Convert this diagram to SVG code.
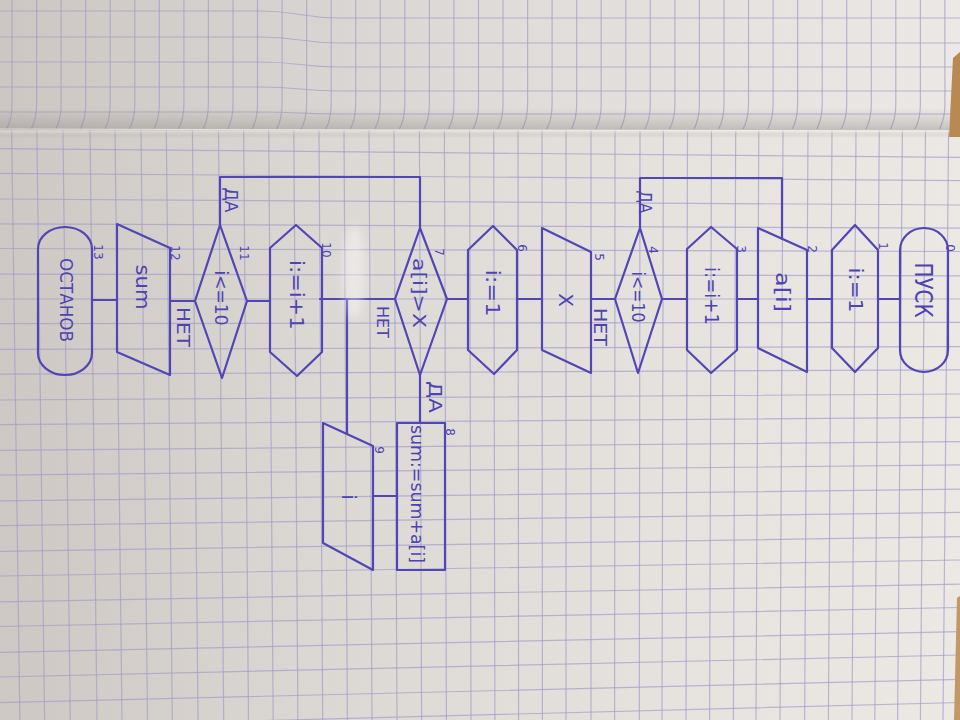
<svg xmlns="http://www.w3.org/2000/svg" width="960" height="720" viewBox="0 0 960 720">
  <defs>
    <linearGradient id="paper" x1="0" y1="0" x2="1" y2="0">
      <stop offset="0" stop-color="#cdc8c3"/>
      <stop offset="0.35" stop-color="#dcd8d4"/>
      <stop offset="0.7" stop-color="#e6e3df"/>
      <stop offset="1" stop-color="#ece9e5"/>
    </linearGradient>
    <linearGradient id="topPaper" x1="0" y1="0" x2="1" y2="0">
      <stop offset="0" stop-color="#ccc7c3"/>
      <stop offset="0.5" stop-color="#dedbd8"/>
      <stop offset="1" stop-color="#ebe8e5"/>
    </linearGradient>
    <linearGradient id="fold" x1="0" y1="0" x2="0" y2="1">
      <stop offset="0" stop-color="#7d7873" stop-opacity="0"/>
      <stop offset="0.55" stop-color="#7d7873" stop-opacity="0.25"/>
      <stop offset="0.72" stop-color="#7d7873" stop-opacity="0.35"/>
      <stop offset="0.76" stop-color="#f2f0ee" stop-opacity="0.45"/>
      <stop offset="1" stop-color="#7d7873" stop-opacity="0"/>
    </linearGradient>
    <clipPath id="lowerSheet"><rect x="0" y="129" width="960" height="591"/></clipPath>
    <clipPath id="upperSheet"><rect x="0" y="0" width="960" height="129"/></clipPath>
    <filter id="soft" x="-50%" y="-50%" width="200%" height="200%"><feGaussianBlur stdDeviation="5"/></filter>
    <style>
      .grid { fill: none; stroke: #a39dc8; stroke-width: 1.2; stroke-opacity: 0.7; }
      .ink { fill: none; stroke: #5046b6; stroke-width: 2.2; stroke-linejoin: round; stroke-linecap: round; }
      .lbl { fill: #4d43b3; font-family: "DejaVu Sans", "Liberation Sans", sans-serif; text-anchor: middle; }
      .num { fill: #4d43b3; font-family: "DejaVu Sans", "Liberation Sans", sans-serif; text-anchor: middle; font-size: 12px; }
    </style>
  </defs>

  <!-- paper -->
  <rect x="0" y="0" width="960" height="720" fill="url(#paper)"/>
  <rect x="0" y="0" width="960" height="129" fill="url(#topPaper)"/>

  <!-- grid of the upper sheet, bending slightly towards the fold -->
  <g class="grid" clip-path="url(#upperSheet)">
    <path d="M12 0V104Q12 120 6 130M36.6 0V104Q36.6 120 30.6 130M61.1 0V104Q61.1 120 55.1 130M85.7 0V104Q85.7 120 79.7 130M110.2 0V104Q110.2 120 104.2 130M134.8 0V104Q134.8 120 128.8 130M159.3 0V104Q159.3 120 153.3 130M183.9 0V104Q183.9 120 177.9 130M208.4 0V104Q208.4 120 202.4 130M233 0V104Q233 120 227 130M257.5 0V104Q257.5 120 251.5 130M282.1 0V104Q282.1 120 276.1 130M306.6 0V104Q306.6 120 300.6 130M331.2 0V104Q331.2 120 325.2 130M355.7 0V104Q355.7 120 349.7 130M380.3 0V104Q380.3 120 374.3 130M404.8 0V104Q404.8 120 398.8 130M429.4 0V104Q429.4 120 423.4 130M453.9 0V104Q453.9 120 447.9 130M478.5 0V104Q478.5 120 472.5 130M503 0V104Q503 120 497 130M527.6 0V104Q527.6 120 521.6 130M552.1 0V104Q552.1 120 546.1 130M576.7 0V104Q576.7 120 570.7 130M601.2 0V104Q601.2 120 595.2 130M625.8 0V104Q625.8 120 619.8 130M650.3 0V104Q650.3 120 644.3 130M674.9 0V104Q674.9 120 668.9 130M699.4 0V104Q699.4 120 693.4 130M724 0V104Q724 120 718 130M748.5 0V104Q748.5 120 742.5 130M773.1 0V104Q773.1 120 767.1 130M797.6 0V104Q797.6 120 791.6 130M822.2 0V104Q822.2 120 816.2 130M846.7 0V104Q846.7 120 840.7 130M871.3 0V104Q871.3 120 865.3 130M895.8 0V104Q895.8 120 889.8 130M920.4 0V104Q920.4 120 914.4 130M944.9 0V104Q944.9 120 938.9 130"/>
    <path d="M0 11L260 11C300 11 300 18 340 18L960 18M0 37L260 37C300 37 300 43 340 43L960 43M0 62L260 62C300 62 300 67 340 67L960 67M0 87L260 87C300 87 300 91 340 91L960 91M0 112L260 112C300 112 300 114 340 114L960 114"/>
  </g>

  <!-- grid of the lower sheet -->
  <g class="grid" clip-path="url(#lowerSheet)">
    <path d="M11.6 130L19.9 720M36.8 130L44.6 720M62.9 130L70.3 720M90 130L97 720M115 130L122 720M141 130L147.5 720M166.3 130L172.3 720M192.4 130L198 720M218.5 130L223.7 720M243.6 130L248.5 720M268.7 130L273.2 720M293.8 130L297.9 720M319 130L322.7 720M344 130L347.4 720M369 130L372 720M394 130L397 720M419.4 130L421.6 720M444.4 130L446.4 720M469.6 130L471 720M493.7 130L494.9 720M518 130L518.6 720M542 130L542.4 720M566 130L566 720M591 130L591 720M615 130L614.6 720M640 130L639.3 720M663.4 130L662 720M687.5 130L686 720M711.5 130L709.6 720M735.7 130L733.4 720M758.8 130L756 720M783 130L780 720M808 130L804.6 720M832 130L828.4 720M856 130L852 720M879.3 130L874.8 720M902.4 130L897.6 720M925.5 130L920.4 720M948.6 130L943 720"/>
    <path d="M0 148.6L960 157.4M0 173.3L960 180.7M0 199L960 205M0 223.8L960 228.2M0 248.5L960 251.5M0 274.2L960 275.8M0 299L960 299M0 323.7L960 322.3M0 349.4L960 346.6M0 374.2L960 369.8M0 400L960 394M0 424.6L960 417.4M0 450.4L960 441.6M0 475.1L960 464.9M0 500.9L960 489.2M0 525.6L960 512.4M0 551.3L960 536.7M0 576L960 560M0 601.8L960 584.2M0 626.5L960 607.5M0 652.3L960 631.7M0 677L960 655M0 702.7L960 679.3M0 727.5L960 702.5M0 753L960 727"/>
  </g>

  <!-- fold between the two sheets -->
  <rect x="0" y="108" width="955" height="30" fill="url(#fold)"/>
  <path d="M0 129L955 131" stroke="#f4f2f0" stroke-width="1.2" stroke-opacity="0.7" fill="none"/>

  <!-- table showing at the right edge -->
  <path d="M953 58L960 52L960 137L949 137Z" fill="#b98853"/>
  <path d="M957 598L960 596L960 720L954 720Z" fill="#c39766"/>

  <!-- connectors -->
  <g id="connectors" class="ink">
    <path d="M878 299H900"/>
    <path d="M807 299H832"/>
    <path d="M737 299H758"/>
    <path d="M662 299H687"/>
    <path d="M591 299H615"/>
    <path d="M517 299H542"/>
    <path d="M447 299H468"/>
    <path d="M320 299H395"/>
    <path d="M420 375V423"/>
    <path d="M373 496H397"/>
    <path d="M347 299V434"/>
    <path d="M247 301H270"/>
    <path d="M170 301H195"/>
    <path d="M92 300H117"/>
    <path d="M640 228V178H782V239"/>
    <path d="M220 225V177H420V228"/>
  </g>

  <!-- branch labels -->
  <g id="branch-labels">
    <text class="lbl" font-size="17" textLength="38" lengthAdjust="spacingAndGlyphs" transform="translate(600 327) rotate(90)" y="6">НЕТ</text>
    <text class="lbl" font-size="17" textLength="23" lengthAdjust="spacingAndGlyphs" transform="translate(645 202) rotate(90)" y="6">ДА</text>
    <text class="lbl" font-size="16" textLength="32" lengthAdjust="spacingAndGlyphs" transform="translate(383 322) rotate(90)" y="6">НЕТ</text>
    <text class="lbl" font-size="18" textLength="32" lengthAdjust="spacingAndGlyphs" transform="translate(435 397) rotate(90)" y="6">ДА</text>
    <text class="lbl" font-size="17" textLength="25" lengthAdjust="spacingAndGlyphs" transform="translate(231 200) rotate(90)" y="6">ДА</text>
    <text class="lbl" font-size="17" textLength="40" lengthAdjust="spacingAndGlyphs" transform="translate(183 327) rotate(90)" y="6">НЕТ</text>
  </g>

  <!-- 0: start -->
  <g id="n0">
    <rect class="ink" x="900" y="228" width="48" height="144" rx="24" ry="22"/>
    <text class="lbl" font-size="24" textLength="55" lengthAdjust="spacingAndGlyphs" transform="translate(923 290) rotate(90)" y="8">ПУСК</text>
    <text class="num" font-size="11" transform="translate(950 248) rotate(90)" y="4">0</text>
  </g>

  <!-- 1: i:=1 -->
  <g id="n1">
    <polygon class="ink" points="855,225 878,250 878,348 855,372 832,348 832,250"/>
    <text class="lbl" font-size="19" textLength="45" lengthAdjust="spacingAndGlyphs" transform="translate(855 290) rotate(90)" y="6">i:=1</text>
    <text class="num" transform="translate(883 246) rotate(90)" y="4">1</text>
  </g>

  <!-- 2: input a[i] -->
  <g id="n2">
    <polygon class="ink" points="758,228 807,250 807,372 758,348"/>
    <text class="lbl" font-size="19" textLength="40" lengthAdjust="spacingAndGlyphs" transform="translate(782 292) rotate(90)" y="6">a[i]</text>
    <text class="num" transform="translate(812 249) rotate(90)" y="4">2</text>
  </g>

  <!-- 3: i:=i+1 -->
  <g id="n3">
    <polygon class="ink" points="711,227 737,249 737,350 711,373 687,350 687,249"/>
    <text class="lbl" font-size="19" textLength="58" lengthAdjust="spacingAndGlyphs" transform="translate(711 296) rotate(90)" y="6">i:=i+1</text>
    <text class="num" transform="translate(741 249) rotate(90)" y="4">3</text>
  </g>

  <!-- 4: i<=10 -->
  <g id="n4">
    <polygon class="ink" points="640,228 662,299 638,373 615,299"/>
    <text class="lbl" font-size="18" textLength="51" lengthAdjust="spacingAndGlyphs" transform="translate(638 297) rotate(90)" y="6">i&lt;=10</text>
    <text class="num" transform="translate(653 250) rotate(90)" y="4">4</text>
  </g>

  <!-- 5: input X -->
  <g id="n5">
    <polygon class="ink" points="542,228 591,252 591,373 542,350"/>
    <text class="lbl" font-size="20" transform="translate(566 300) rotate(90)" y="7">X</text>
    <text class="num" transform="translate(599 257) rotate(90)" y="4">5</text>
  </g>

  <!-- 6: i:=1 -->
  <g id="n6">
    <polygon class="ink" points="493,226 517,250 517,350 494,374 468,350 468,250"/>
    <text class="lbl" font-size="19" textLength="47" lengthAdjust="spacingAndGlyphs" transform="translate(492 293) rotate(90)" y="6">i:=1</text>
    <text class="num" transform="translate(522 248) rotate(90)" y="4">6</text>
  </g>

  <!-- 7: a[i]>X -->
  <g id="n7">
    <polygon class="ink" points="420,228 447,299 420,375 395,299"/>
    <text class="lbl" font-size="18" textLength="70" lengthAdjust="spacingAndGlyphs" transform="translate(419 293) rotate(90)" y="6">a[i]&gt;X</text>
    <text class="num" transform="translate(439 252) rotate(90)" y="4">7</text>
  </g>

  <!-- 8: sum:=sum+a[i] -->
  <g id="n8">
    <rect class="ink" x="397" y="423" width="48" height="147"/>
    <text class="lbl" font-size="17" textLength="138" lengthAdjust="spacingAndGlyphs" transform="translate(417 494) rotate(90)" y="6">sum:=sum+a[i]</text>
    <text class="num" transform="translate(450 432) rotate(90)" y="4">8</text>
  </g>

  <!-- 9: output i -->
  <g id="n9">
    <polygon class="ink" points="323,423 373,446 373,570 323,543"/>
    <text class="lbl" font-size="20" transform="translate(349 497) rotate(90)" y="7">i</text>
    <text class="num" transform="translate(379 450) rotate(90)" y="4">9</text>
  </g>

  <!-- 10: i:=i+1 -->
  <g id="n10">
    <polygon class="ink" points="296,225 322,248 322,352 297,376 270,352 270,248"/>
    <text class="lbl" font-size="19" textLength="70" lengthAdjust="spacingAndGlyphs" transform="translate(296 295) rotate(90)" y="6">i:=i+1</text>
    <text class="num" transform="translate(326 250) rotate(90)" y="4">10</text>
  </g>

  <!-- 11: i<=10 -->
  <g id="n11">
    <polygon class="ink" points="220,225 247,301 222,378 195,301"/>
    <text class="lbl" font-size="18" textLength="55" lengthAdjust="spacingAndGlyphs" transform="translate(221 298) rotate(90)" y="6">i&lt;=10</text>
    <text class="num" transform="translate(244 253) rotate(90)" y="4">11</text>
  </g>

  <!-- 12: output sum -->
  <g id="n12">
    <polygon class="ink" points="117,224 170,248 170,375 117,352"/>
    <text class="lbl" font-size="20" textLength="45" lengthAdjust="spacingAndGlyphs" transform="translate(143 287) rotate(90)" y="7">sum</text>
    <text class="num" transform="translate(175 253) rotate(90)" y="4">12</text>
  </g>

  <!-- 13: stop -->
  <g id="n13">
    <rect class="ink" x="38" y="227" width="54" height="148" rx="27" ry="22"/>
    <text class="lbl" font-size="18" textLength="84" lengthAdjust="spacingAndGlyphs" transform="translate(66 300) rotate(90)" y="6">ОСТАНОВ</text>
    <text class="num" transform="translate(98 252) rotate(90)" y="4">13</text>
  </g>

  <!-- light glare on the page -->
  <ellipse cx="354" cy="272" rx="11" ry="48" fill="#ffffff" fill-opacity="0.4" filter="url(#soft)"/>
</svg>
